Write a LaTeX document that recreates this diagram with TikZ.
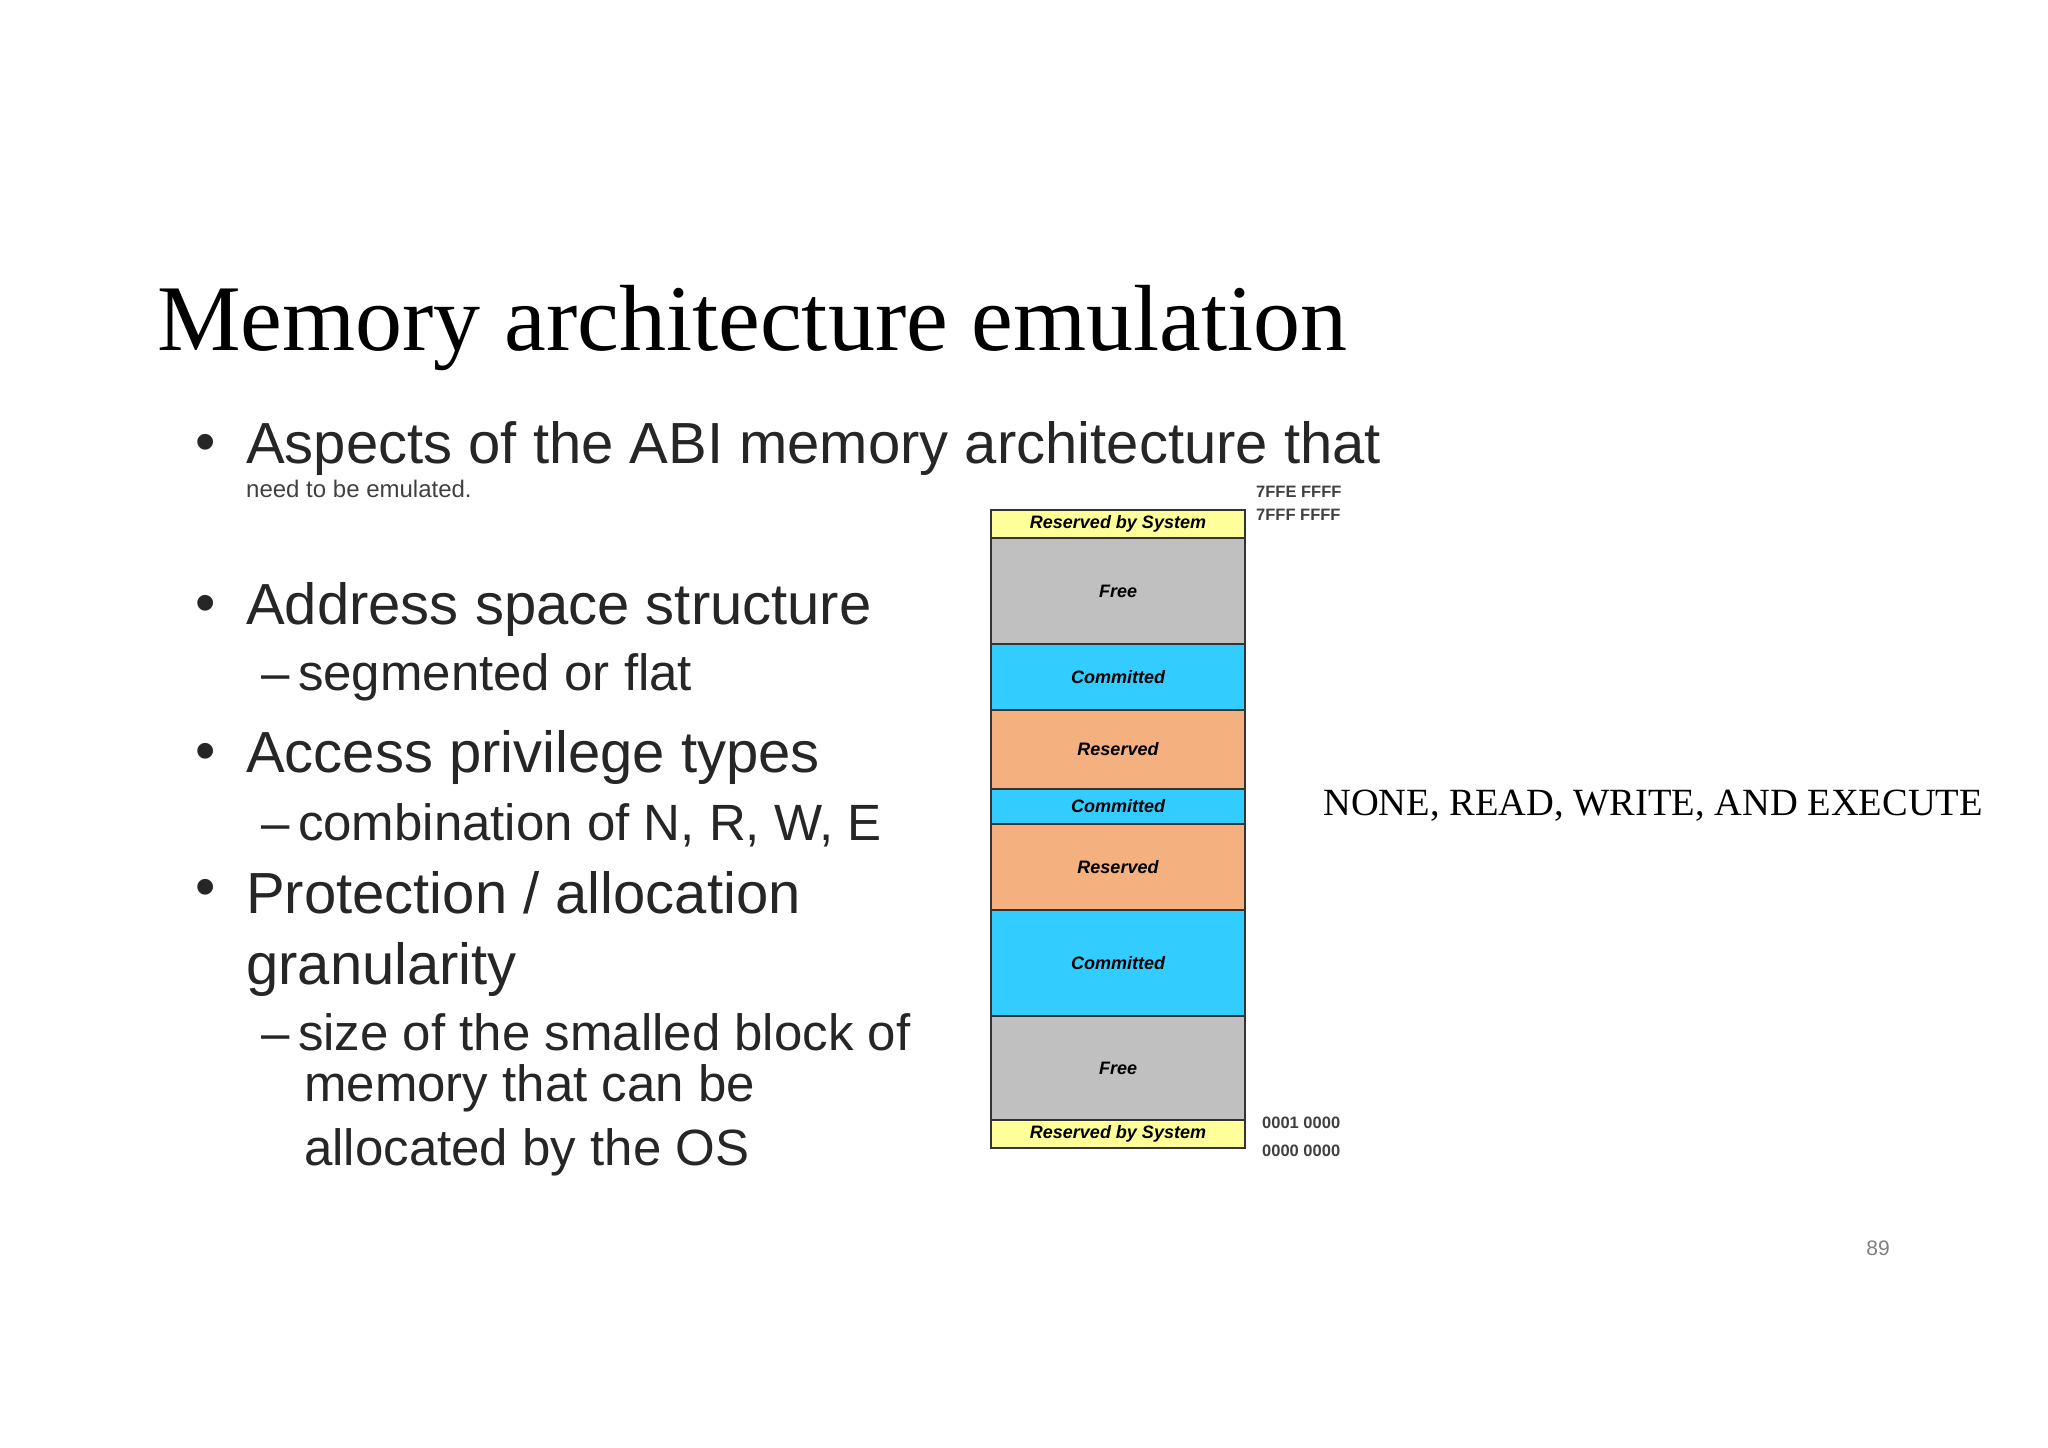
\documentclass[tikz,border=0pt]{standalone}
\usepackage{fontspec}
\setmainfont{Liberation Serif}
\newfontfamily\arialfont{Liberation Sans}
\usetikzlibrary{positioning}
\definecolor{sysyellow}{HTML}{FFFF99}
\definecolor{freegray}{HTML}{C0C0C0}
\definecolor{commitblue}{HTML}{33CCFF}
\definecolor{reserveorange}{HTML}{F4B07E}
\begin{document}
\begin{tikzpicture}[
    x=1pt, y=-1pt,
    title/.style={anchor=base west, inner sep=0, font=\fontsize{94}{94}\selectfont},
    bullet/.style={anchor=west, inner sep=0, font=\arialfont\fontsize{58}{58}\selectfont, text=black!85},
    subitem/.style={anchor=west, inner sep=0, font=\arialfont\fontsize{51}{51}\selectfont, text=black!85},
    block/.style={rectangle, draw=black!80, line width=2pt, minimum width=254pt, inner sep=0, font=\arialfont\bfseries\itshape\fontsize{18}{18}\selectfont},
    addr/.style={anchor=west, inner sep=0, font=\arialfont\bfseries\fontsize{16.5}{16.5}\selectfont, text=black!75}
]
\useasboundingbox (0,0) rectangle (2048,1448);

% Title
\node[title] (title) at (157,350) {Memory architecture emulation};

% Bullets
\node[bullet] (b1) at (246,448) {Aspects of the ABI memory architecture that};
\node[anchor=west, inner sep=0, font=\arialfont\fontsize{24}{24}\selectfont, text=black!75] (b1sub) at (246,489) {need to be emulated.};
\node[bullet] (b2) at (246,609) {Address space structure};
\node[subitem] (b2sub) at (261,677) {\textendash\,segmented or flat};
\node[bullet] (b3) at (246,757) {Access privilege types};
\node[subitem] (b3sub) at (261,825) {\textendash\,combination of N, R, W, E};
\node[bullet] (b4) at (246,893) {Protection / allocation};
\node[bullet] (b4b) at (246,969) {granularity};
\node[subitem] (b4sub) at (261,1032) {\textendash\,size of the smalled block of};
\node[subitem] (b4subb) at (304,1088) {memory that can be};
\node[subitem] (b4subc) at (304,1152) {allocated by the OS};
\foreach \y/\n in {448/1, 609/2, 757/3, 893/4}
    \node[bullet, anchor=center] (dot\n) at (206,\y) {\textbullet};

% Memory map
\foreach \top/\bot/\col/\lab/\n in {509/537/sysyellow/Reserved by System/m1, 537/643/freegray/Free/m2,
    643/709/commitblue/Committed/m3, 709/788/reserveorange/Reserved/m4, 788/823/commitblue/Committed/m5,
    823/909/reserveorange/Reserved/m6, 909/1015/commitblue/Committed/m7, 1015/1119/freegray/Free/m8,
    1119/1147/sysyellow/Reserved by System/m9}
    \node[block, fill=\col, minimum height={\bot-\top}, anchor=north west] (\n) at (990,\top) {\lab};

% Addresses
\node[addr] (a1) at (1256,492) {7FFE FFFF};
\node[addr] (a2) at (1256,515) {7FFF FFFF};
\node[addr] (a3) at (1262,1123) {0001 0000};
\node[addr] (a4) at (1262,1151) {0000 0000};

% Note
\node[anchor=west, inner sep=0, font=\fontsize{38.5}{38.5}\selectfont] (note) at (1323,806) {NONE, READ, WRITE, AND EXECUTE};

% Page number
\node[anchor=center, inner sep=0, font=\arialfont\fontsize{21}{21}\selectfont, text=black!50] (page) at (1878,1248) {89};
\end{tikzpicture}
\end{document}
